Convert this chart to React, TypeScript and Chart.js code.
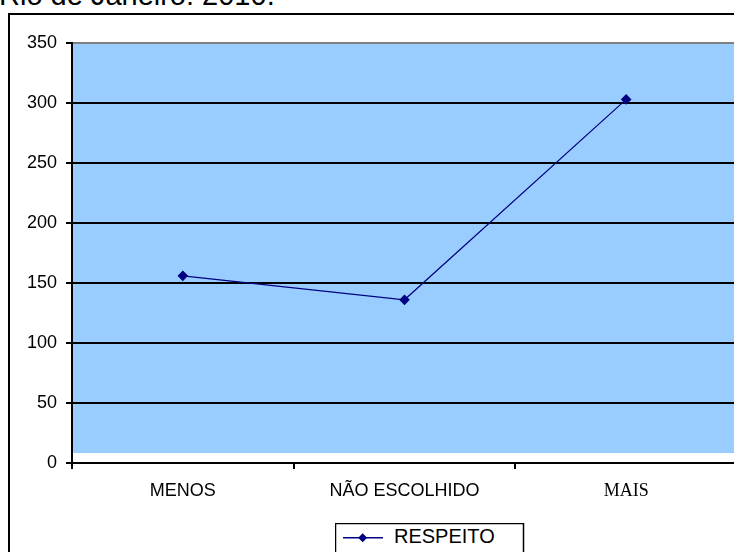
import React, { useEffect, useRef } from "react";
import { Chart, registerables } from "chart.js";

Chart.register(...registerables);

const categories = ["MENOS", "NÃO ESCOLHIDO", "MAIS"];
const respeito = [156, 136, 303];
const seriesName = "RESPEITO";
const title = "Rio de Janeiro: 2010.";
const yMin = 0;
const yMax = 350;
const yStep = 50;

const SANS = "'Liberation Sans', Arial, sans-serif";
const SERIF = "'Liberation Serif', 'Times New Roman', serif";
const NAVY = "#000080";

// Light blue plot backdrop, stopping a little short of the x axis
const plotBackground = {
  id: "plotBackground",
  beforeDraw(chart: any) {
    const { ctx, chartArea } = chart;
    ctx.save();
    ctx.fillStyle = "#99CCFF";
    ctx.fillRect(
      chartArea.left,
      chartArea.top,
      chartArea.right - chartArea.left,
      chartArea.bottom - chartArea.top - 10
    );
    ctx.restore();
  },
};

export default function App() {
  const canvasRef = useRef<HTMLCanvasElement | null>(null);

  useEffect(() => {
    const canvas = canvasRef.current;
    if (!canvas) return;
    const chart = new Chart(canvas, {
      type: "line",
      data: {
        labels: categories,
        datasets: [
          {
            label: seriesName,
            data: respeito,
            borderColor: NAVY,
            backgroundColor: NAVY,
            borderWidth: 1.2,
            pointStyle: "rectRot",
            pointRadius: 4.5,
            pointBackgroundColor: NAVY,
            pointBorderColor: NAVY,
            tension: 0,
          },
        ],
      },
      options: {
        animation: false,
        responsive: false,
        maintainAspectRatio: false,
        layout: { padding: { top: 43, right: 23, bottom: 0, left: 0 } },
        plugins: {
          legend: { display: false },
          tooltip: { enabled: false },
          title: { display: false },
        },
        scales: {
          x: {
            type: "category",
            offset: true,
            grid: {
              offset: true,
              drawOnChartArea: false,
              drawTicks: true,
              tickLength: 6,
              color: "#000",
              lineWidth: 2,
            },
            border: { display: true, color: "#000", width: 2 },
            ticks: {
              color: "#000",
              padding: 11,
              maxRotation: 0,
              autoSkip: false,
              font: (ctx: any) =>
                ctx.index === 2
                  ? { family: SERIF, size: 18 }
                  : { family: SANS, size: 18 },
            },
            afterFit: (scale: any) => {
              scale.height = 89;
            },
          },
          y: {
            min: yMin,
            max: yMax,
            ticks: {
              stepSize: yStep,
              color: "#000",
              padding: 9,
              font: { family: SANS, size: 18 },
            },
            grid: {
              color: (ctx: any) =>
                ctx.tick && ctx.tick.value === yMax ? "#808080" : "#000",
              lineWidth: 2,
              tickLength: 6,
              tickColor: "#000",
            },
            border: { display: true, color: "#000", width: 2 },
            afterFit: (scale: any) => {
              scale.width = 72;
            },
          },
        },
      },
      plugins: [plotBackground],
    });
    return () => chart.destroy();
  }, []);

  return (
    <div
      style={{
        position: "fixed",
        left: 0,
        top: 0,
        width: 734,
        height: 552,
        overflow: "hidden",
        background: "#fff",
      }}
    >
      <svg
        width={734}
        height={14}
        style={{ position: "absolute", left: 0, top: 0 }}
      >
        <text x={-1} y={5} fontFamily={SANS} fontSize={29} fill="#000">
          {title}
        </text>
      </svg>
      <div
        style={{
          position: "absolute",
          left: 8,
          top: 13,
          width: 800,
          height: 600,
          border: "2px solid #000",
          boxSizing: "border-box",
        }}
      />
      <canvas
        ref={canvasRef}
        width={760}
        height={552}
        style={{ position: "absolute", left: 0, top: 0, width: 760, height: 552 }}
      />
      <svg
        width={190}
        height={40}
        style={{ position: "absolute", left: 335, top: 523 }}
      >
        <rect x={0.5} y={0.5} width={188} height={60} fill="#fff" stroke="#000" strokeWidth={1.5} />
        <line x1={8} y1={14.7} x2={48} y2={14.7} stroke={NAVY} strokeWidth={1.5} />
        <polygon points="27.7,10.2 32.2,14.7 27.7,19.2 23.2,14.7" fill={NAVY} />
        <text x={59} y={20.3} fontFamily={SANS} fontSize={20} fill="#000">
          {seriesName}
        </text>
      </svg>
    </div>
  );
}
